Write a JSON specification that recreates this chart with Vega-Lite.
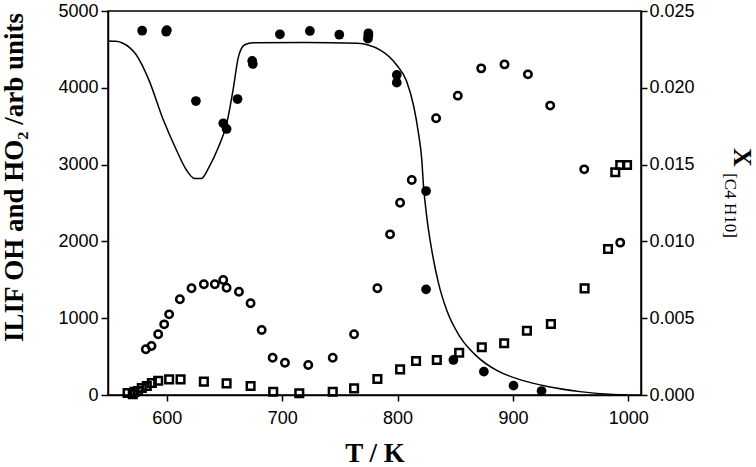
{
  "$schema": "https://vega.github.io/schema/vega-lite/v6.json",
  "width": 533,
  "height": 384,
  "autosize": {"type": "none"},
  "padding": {"left": 108, "top": 11, "right": 115, "bottom": 72},
  "background": "white",
  "config": {
    "view": {"stroke": "black", "strokeWidth": 1.5},
    "axis": {
      "grid": false,
      "domainColor": "black",
      "domainWidth": 1.5,
      "tickColor": "black",
      "tickWidth": 1.5,
      "labelColor": "black",
      "labelFont": "Liberation Sans",
      "labelFontSize": 18,
      "titleColor": "black",
      "titleFont": "Liberation Serif"
    }
  },
  "title": {
    "text": "X",
    "orient": "right",
    "anchor": "start",
    "frame": "group",
    "font": "Liberation Serif",
    "fontSize": 26,
    "fontWeight": "bold",
    "color": "black",
    "offset": -9,
    "dx": 137
  },
  "datasets": {
    "pts": [
      {"T": 578.6, "v": 4743, "s": "OH"},
      {"T": 599.4, "v": 4730, "s": "OH"},
      {"T": 600.0, "v": 4750, "s": "OH"},
      {"T": 625.2, "v": 3828, "s": "OH"},
      {"T": 648.9, "v": 3538, "s": "OH"},
      {"T": 651.8, "v": 3464, "s": "OH"},
      {"T": 661.3, "v": 3854, "s": "OH"},
      {"T": 674.0, "v": 4349, "s": "OH"},
      {"T": 674.5, "v": 4310, "s": "OH"},
      {"T": 698.0, "v": 4697, "s": "OH"},
      {"T": 724.0, "v": 4740, "s": "OH"},
      {"T": 749.5, "v": 4691, "s": "OH"},
      {"T": 774.7, "v": 4710, "s": "OH"},
      {"T": 774.7, "v": 4680, "s": "OH"},
      {"T": 774.3, "v": 4640, "s": "OH"},
      {"T": 799.3, "v": 4167, "s": "OH"},
      {"T": 799.3, "v": 4067, "s": "OH"},
      {"T": 824.7, "v": 2656, "s": "OH"},
      {"T": 824.7, "v": 1376, "s": "OH"},
      {"T": 848.4, "v": 456, "s": "OH"},
      {"T": 874.8, "v": 304, "s": "OH"},
      {"T": 900.5, "v": 122, "s": "OH"},
      {"T": 924.8, "v": 52, "s": "OH"},
      {"T": 581.8, "v": 595, "s": "HO2"},
      {"T": 586.7, "v": 638, "s": "HO2"},
      {"T": 592.5, "v": 790, "s": "HO2"},
      {"T": 597.7, "v": 920, "s": "HO2"},
      {"T": 602.0, "v": 1050, "s": "HO2"},
      {"T": 611.3, "v": 1246, "s": "HO2"},
      {"T": 621.4, "v": 1389, "s": "HO2"},
      {"T": 632.1, "v": 1441, "s": "HO2"},
      {"T": 641.6, "v": 1441, "s": "HO2"},
      {"T": 648.9, "v": 1497, "s": "HO2"},
      {"T": 651.8, "v": 1397, "s": "HO2"},
      {"T": 662.5, "v": 1345, "s": "HO2"},
      {"T": 672.6, "v": 1194, "s": "HO2"},
      {"T": 682.2, "v": 846, "s": "HO2"},
      {"T": 691.7, "v": 486, "s": "HO2"},
      {"T": 702.4, "v": 421, "s": "HO2"},
      {"T": 722.6, "v": 390, "s": "HO2"},
      {"T": 743.8, "v": 486, "s": "HO2"},
      {"T": 762.3, "v": 790, "s": "HO2"},
      {"T": 782.5, "v": 1389, "s": "HO2"},
      {"T": 793.5, "v": 2092, "s": "HO2"},
      {"T": 802.2, "v": 2504, "s": "HO2"},
      {"T": 812.3, "v": 2800, "s": "HO2"},
      {"T": 833.4, "v": 3603, "s": "HO2"},
      {"T": 852.2, "v": 3898, "s": "HO2"},
      {"T": 872.5, "v": 4253, "s": "HO2"},
      {"T": 892.7, "v": 4305, "s": "HO2"},
      {"T": 913.0, "v": 4175, "s": "HO2"},
      {"T": 932.3, "v": 3768, "s": "HO2"},
      {"T": 961.8, "v": 2938, "s": "HO2"},
      {"T": 993.0, "v": 1984, "s": "HO2"},
      {"T": 566.0, "v": 26, "s": "SQ"},
      {"T": 570.5, "v": 10, "s": "SQ"},
      {"T": 572.0, "v": 40, "s": "SQ"},
      {"T": 575.0, "v": 52, "s": "SQ"},
      {"T": 578.3, "v": 91, "s": "SQ"},
      {"T": 582.6, "v": 117, "s": "SQ"},
      {"T": 587.0, "v": 156, "s": "SQ"},
      {"T": 592.5, "v": 186, "s": "SQ"},
      {"T": 602.0, "v": 204, "s": "SQ"},
      {"T": 611.9, "v": 204, "s": "SQ"},
      {"T": 632.1, "v": 174, "s": "SQ"},
      {"T": 651.8, "v": 152, "s": "SQ"},
      {"T": 672.6, "v": 117, "s": "SQ"},
      {"T": 692.2, "v": 43, "s": "SQ"},
      {"T": 714.8, "v": 22, "s": "SQ"},
      {"T": 743.8, "v": 43, "s": "SQ"},
      {"T": 762.3, "v": 87, "s": "SQ"},
      {"T": 782.5, "v": 208, "s": "SQ"},
      {"T": 802.2, "v": 334, "s": "SQ"},
      {"T": 816.0, "v": 443, "s": "SQ"},
      {"T": 834.0, "v": 456, "s": "SQ"},
      {"T": 853.4, "v": 551, "s": "SQ"},
      {"T": 873.0, "v": 621, "s": "SQ"},
      {"T": 892.4, "v": 673, "s": "SQ"},
      {"T": 912.1, "v": 837, "s": "SQ"},
      {"T": 932.9, "v": 924, "s": "SQ"},
      {"T": 962.1, "v": 1389, "s": "SQ"},
      {"T": 982.4, "v": 1901, "s": "SQ"},
      {"T": 988.7, "v": 2900, "s": "SQ"},
      {"T": 993.0, "v": 2995, "s": "SQ"},
      {"T": 998.9, "v": 2995, "s": "SQ"}
    ],
    "line": [
      {"T": 549, "x": 0.02305},
      {"T": 556, "x": 0.02303},
      {"T": 562, "x": 0.0229},
      {"T": 568, "x": 0.0226},
      {"T": 573, "x": 0.0222},
      {"T": 577, "x": 0.0217},
      {"T": 585, "x": 0.0204},
      {"T": 597, "x": 0.0179},
      {"T": 608, "x": 0.016},
      {"T": 617, "x": 0.01465},
      {"T": 624, "x": 0.0141},
      {"T": 630, "x": 0.0141},
      {"T": 637, "x": 0.0149},
      {"T": 644.5, "x": 0.0161},
      {"T": 652, "x": 0.0177},
      {"T": 657.5, "x": 0.0199},
      {"T": 662, "x": 0.022},
      {"T": 667.5, "x": 0.0228},
      {"T": 675, "x": 0.02294},
      {"T": 720, "x": 0.02295},
      {"T": 765, "x": 0.0229},
      {"T": 785, "x": 0.02245},
      {"T": 799, "x": 0.0215},
      {"T": 808, "x": 0.0204},
      {"T": 814, "x": 0.0188},
      {"T": 818, "x": 0.0171},
      {"T": 821, "x": 0.0153},
      {"T": 822.5, "x": 0.0136},
      {"T": 825.3, "x": 0.0116},
      {"T": 829.7, "x": 0.0094},
      {"T": 835.4, "x": 0.0073},
      {"T": 842.7, "x": 0.0055},
      {"T": 854, "x": 0.0038},
      {"T": 869, "x": 0.0025},
      {"T": 886, "x": 0.0016},
      {"T": 906, "x": 0.001},
      {"T": 930, "x": 0.00055},
      {"T": 958, "x": 0.00022},
      {"T": 987, "x": 0.00003},
      {"T": 999, "x": 0.0}
    ]
  },
  "layer": [
    {
      "data": {"name": "pts"},
      "encoding": {
        "x": {
          "field": "T", "type": "quantitative",
          "scale": {"domain": [549, 1011], "nice": false, "zero": false},
          "axis": {
            "values": [600, 700, 800, 900, 1000],
            "format": "d",
            "tickSize": 6, "labelPadding": 8,
            "title": "T / K",
            "titleFontSize": 27, "titleFontWeight": "bold",
            "titleBaseline": "alphabetic", "titleY": 66
          }
        },
        "y": {
          "field": "v", "type": "quantitative",
          "scale": {"domain": [0, 5000], "nice": false},
          "axis": {
            "orient": "left",
            "values": [0, 1000, 2000, 3000, 4000, 5000],
            "format": "d",
            "tickSize": 7, "labelPadding": 3,
            "title": "ILIF OH and HO₂ /arb units",
            "titleFontSize": 27, "titleFontWeight": "bold",
            "titleAngle": -90, "titleAlign": "center",
            "titleBaseline": "alphabetic", "titleX": -86, "titleY": 166
          }
        }
      },
      "layer": [
        {
          "transform": [{"filter": "datum.s === 'OH'"}],
          "mark": {"type": "circle", "size": 95, "color": "black", "opacity": 1}
        },
        {
          "transform": [{"filter": "datum.s === 'HO2'"}],
          "mark": {"type": "point", "shape": "circle", "filled": false, "size": 55, "strokeWidth": 2.5, "color": "black", "opacity": 1}
        },
        {
          "transform": [{"filter": "datum.s === 'SQ'"}],
          "mark": {"type": "point", "shape": "square", "filled": false, "size": 58, "strokeWidth": 2.5, "color": "black", "opacity": 1}
        }
      ]
    },
    {
      "data": {"name": "line"},
      "mark": {"type": "line", "color": "black", "strokeWidth": 1.5, "interpolate": "monotone"},
      "encoding": {
        "x": {"field": "T", "type": "quantitative", "scale": {"domain": [549, 1011], "nice": false, "zero": false}},
        "y": {
          "field": "x", "type": "quantitative",
          "scale": {"domain": [0, 0.025], "nice": false},
          "axis": {
            "orient": "right",
            "values": [0, 0.005, 0.01, 0.015, 0.02, 0.025],
            "format": ".3f",
            "tickSize": 6, "labelPadding": 2,
            "title": "[C4 H10]",
            "titleFontSize": 17, "titleFontWeight": "normal",
            "titleAngle": 90, "titleAlign": "center",
            "titleBaseline": "alphabetic", "titleX": 83, "titleY": 194
          }
        }
      }
    }
  ],
  "resolve": {"scale": {"y": "independent"}}
}
